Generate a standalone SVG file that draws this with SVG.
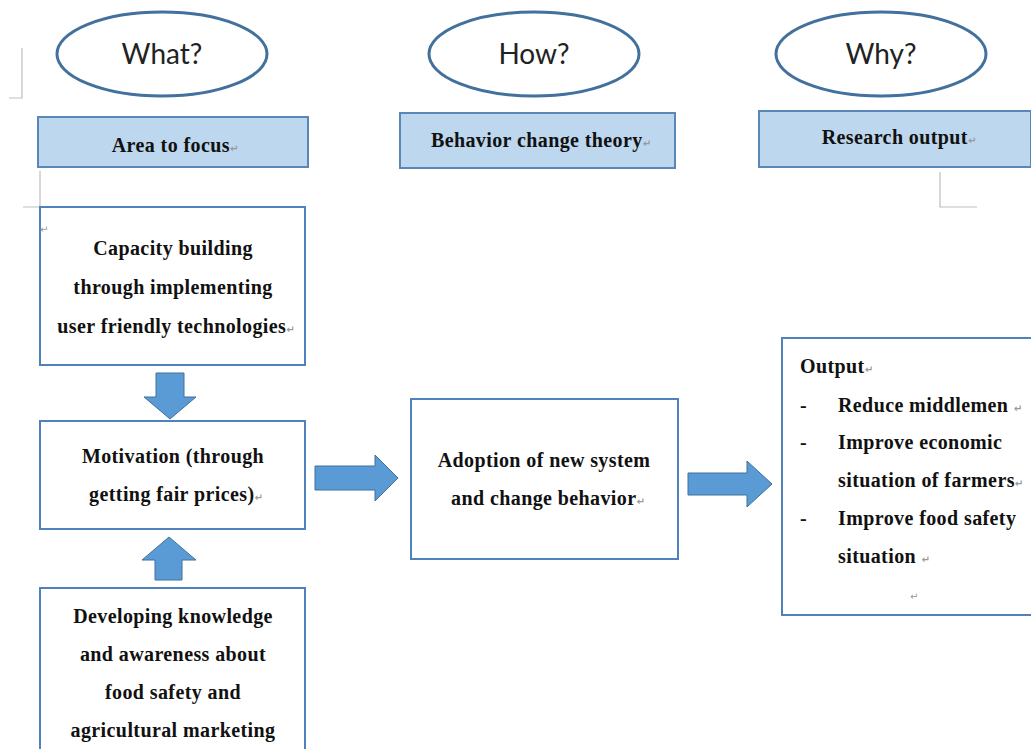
<svg xmlns="http://www.w3.org/2000/svg" width="1031" height="749" viewBox="0 0 1031 749">
<style>
.ell{fill:#fff;stroke:#41719C;stroke-width:3}
.hdr{fill:#BDD7EE;stroke:#5B86B8;stroke-width:2}
.box{fill:#fff;stroke:#4F81BD;stroke-width:2}
.q{font-family:Lato,"Open Sans",sans-serif;font-size:28px;fill:#222;text-anchor:middle}
.t{font-family:"Liberation Serif",serif;font-weight:bold;font-size:20px;letter-spacing:0.4px;fill:#111;text-anchor:middle}
.tl{font-family:"Liberation Serif",serif;font-weight:bold;font-size:20px;letter-spacing:0.4px;fill:#111}
.pm{font-family:"DejaVu Sans",sans-serif;font-size:10px;letter-spacing:0;fill:#999}
.arr{fill:#5B9BD5;stroke:#41719C;stroke-width:1}
.mark{fill:none;stroke:#BFBFBF;stroke-width:1.2}
</style>
<rect width="1031" height="749" fill="#fff"/>
<g id="marks">
<path class="mark" d="M22 48 V98 H9"/>
<path class="mark" d="M40 171 V207 H23"/>
<path class="mark" d="M940 172 V207 H977"/>
</g>
<g id="what"><ellipse class="ell" cx="162" cy="54" rx="105" ry="42"/><text class="q" x="162" y="64">What?</text></g>
<g id="how"><ellipse class="ell" cx="534" cy="54" rx="105" ry="42"/><text class="q" x="534" y="64">How?</text></g>
<g id="why"><ellipse class="ell" cx="881" cy="54" rx="105" ry="42"/><text class="q" x="881" y="64">Why?</text></g>
<g id="area"><rect class="hdr" x="38" y="117" width="270" height="50"/><text class="t" x="175" y="152">Area to focus<tspan class="pm">↵</tspan></text></g>
<g id="theory"><rect class="hdr" x="400" y="113" width="275" height="55"/><text class="t" x="541" y="147">Behavior change theory<tspan class="pm">↵</tspan></text></g>
<g id="research"><rect class="hdr" x="759" y="111" width="272" height="56"/><text class="t" x="899" y="144">Research output<tspan class="pm">↵</tspan></text></g>
<g id="capacity"><rect class="box" x="40" y="207" width="265" height="158"/>
<text class="pm" x="40" y="233">↵</text>
<text class="t" x="173" y="255">Capacity building</text>
<text class="t" x="173" y="294">through implementing</text>
<text class="t" x="176" y="333">user friendly technologies<tspan class="pm">↵</tspan></text></g>
<g id="motivation"><rect class="box" x="40" y="421" width="265" height="108"/>
<text class="t" x="173" y="463">Motivation (through</text>
<text class="t" x="176" y="501">getting fair prices)<tspan class="pm">↵</tspan></text></g>
<g id="knowledge"><rect class="box" x="40" y="588" width="265" height="175"/>
<text class="t" x="173" y="623">Developing knowledge</text>
<text class="t" x="173" y="661">and awareness about</text>
<text class="t" x="173" y="699">food safety and</text>
<text class="t" x="173" y="737">agricultural marketing</text></g>
<g id="adoption"><rect class="box" x="411" y="399" width="267" height="160"/>
<text class="t" x="544" y="467">Adoption of new system</text>
<text class="t" x="548" y="505">and change behavior<tspan class="pm">↵</tspan></text></g>
<g id="output"><rect class="box" x="782" y="338" width="252" height="277"/>
<text class="tl" x="800" y="373">Output<tspan class="pm">↵</tspan></text>
<text class="tl" x="800" y="412">-</text><text class="tl" x="838" y="412">Reduce middlemen <tspan class="pm">↵</tspan></text>
<text class="tl" x="800" y="449">-</text><text class="tl" x="838" y="449">Improve economic</text>
<text class="tl" x="838" y="487">situation of farmers<tspan class="pm">↵</tspan></text>
<text class="tl" x="800" y="525">-</text><text class="tl" x="838" y="525">Improve food safety</text>
<text class="tl" x="838" y="563">situation <tspan class="pm">↵</tspan></text>
<text class="pm" x="910" y="600">↵</text></g>
<g id="connectors">
<path class="arr" d="M156 373 H184 V397 H196 L170 419 L144 397 H156 Z"/>
<path class="arr" d="M155 580 H182 V560 H196 L169 537 L142 560 H155 Z"/>
<path class="arr" d="M315 466 H375 V455 L398 478 L375 501 V490 H315 Z"/>
<path class="arr" d="M688 473 H747 V461 L772 484 L747 507 V495 H688 Z"/>
</g>
</svg>
